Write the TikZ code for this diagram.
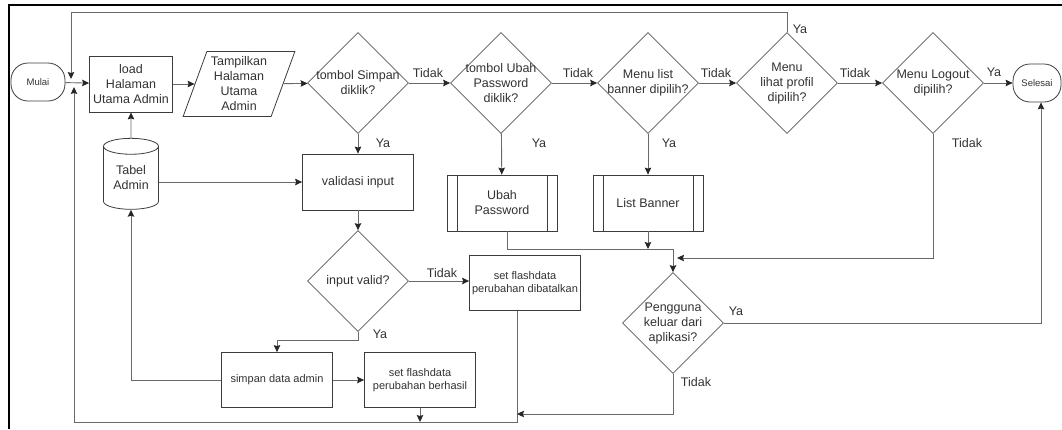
\documentclass[tikz,border=0pt]{standalone}
\usepackage{fontspec}
\setmainfont{Liberation Sans}
\usetikzlibrary{arrows.meta,shapes.geometric}
\definecolor{linec}{RGB}{105,105,105}
\definecolor{edgec}{RGB}{60,60,60}
\definecolor{textc}{RGB}{50,50,50}
\tikzset{
  term/.style={rectangle,rounded corners=17pt,draw=edgec,line width=0.8pt,minimum width=54pt,minimum height=38pt,inner sep=0pt,font=\fontsize{9.5}{11}\selectfont,text=textc},
  proc/.style={rectangle,draw=edgec,line width=0.8pt,minimum width=111pt,minimum height=56pt,inner sep=1pt,align=center,font=\fontsize{12.5}{15}\selectfont,text=textc},
  small/.style={font=\fontsize{11}{13.5}\selectfont},
  pproc/.style={proc,minimum width=110pt,path picture={
      \draw[edgec,line width=0.8pt] ([xshift=10pt]path picture bounding box.north west) -- ([xshift=10pt]path picture bounding box.south west)
        ([xshift=-10pt]path picture bounding box.north east) -- ([xshift=-10pt]path picture bounding box.south east);}},
  io/.style={trapezium,trapezium left angle=69,trapezium right angle=111,trapezium stretches=true,draw=edgec,line width=0.8pt,minimum width=112pt,minimum height=65pt,inner sep=0pt,align=center,font=\fontsize{12.5}{15}\selectfont,text=textc},
  dec/.style={diamond,draw=edgec!85,line width=0.7pt,minimum width=101pt,minimum height=101pt,inner sep=-6pt,align=center,font=\fontsize{12.5}{15}\selectfont,text=textc},
  db/.style={cylinder,shape border rotate=90,aspect=0.45,draw=edgec,line width=0.8pt,minimum width=55pt,minimum height=71pt,inner sep=0pt,align=center,font=\fontsize{12.5}{15}\selectfont,text=textc},
  flow/.style={-{Stealth[length=7pt,width=6.5pt,inset=1pt,color=black!85]},draw=linec,line width=0.9pt},
  lbl/.style={inner sep=0pt,font=\fontsize{12.5}{15}\selectfont,text=textc},
}
\begin{document}
\begin{tikzpicture}[x=1pt,y=-1pt]
  \useasboundingbox (0,0) rectangle (1062,429);
  % page frame
  \draw[black,line width=2pt] (8,5) -- (1062,5);
  \draw[black,line width=1.6pt] (9,5) -- (9,429);
  % top row: start, load, show, questions, end
  \node[term] (mulai) at (38,82){Mulai};
  \node[proc,minimum width=83pt] (load) at (131,84){load\\Halaman\\Utama Admin};
  \node[io] (tampil) at (239,84){Tampilkan\\Halaman\\Utama\\Admin};
  \node[dec] (simpanq) at (358,83){tombol Simpan\\diklik?};
  \node[dec] (ubahq) at (501,83){tombol Ubah\\Password\\diklik?};
  \node[dec] (bannerq) at (648,83){Menu list\\banner dipilih?};
  \node[dec] (profilq) at (787,83){Menu\\lihat profil\\dipilih?};
  \node[dec] (logoutq) at (933,83){Menu Logout\\dipilih?};
  \node[term,minimum width=48pt] (selesai) at (1037,83){Selesai};
  % lower part
  \node[db] (tabel) at (131,178){Tabel\\Admin};
  \node[proc] (valid) at (358,182){validasi input};
  \node[pproc] (ubah) at (502,203){Ubah\\Password};
  \node[pproc] (banner) at (648,203){List Banner};
  \node[dec] (inputq) at (358,281){input valid?};
  \node[proc,small,minimum height=55pt] (batal) at (525,283){set flashdata\\perubahan dibatalkan};
  \node[dec] (keluarq) at (673,323){Pengguna\\keluar dari\\aplikasi?};
  \node[proc,small,minimum height=55pt] (simpan) at (277,380){simpan data admin};
  \node[proc,small,minimum height=55pt] (berhasil) at (420,380){set flashdata\\perubahan berhasil};
  % junction points of the loops
  \coordinate (jtop) at (71,79);
  \coordinate (jbot) at (74,87);
  \coordinate (jmid) at (673,249);
  \coordinate (jright) at (677,258);
  \coordinate (jlow) at (517,422);
  % main line
  \draw[flow](mulai)--(load); \draw[flow](load.east)--(load.east -| tampil.west);
  \draw[flow](tampil)--(simpanq); \draw[flow](simpanq)--(ubahq);
  \draw[flow](ubahq)--(bannerq); \draw[flow](bannerq)--(profilq);
  \draw[flow](profilq)--(logoutq); \draw[flow](logoutq)--(selesai);
  \draw[flow](profilq.north)--++(0,-20)-|(jtop);
  % simpan branch
  \draw[flow](simpanq)--(valid); \draw[flow](tabel)--(load);
  \draw[flow](tabel.east |- valid.west)--(valid.west);
  \draw[flow](valid)--(inputq);
  \draw[flow](inputq.east)--(inputq.east -| batal.west);
  \draw[flow](inputq.south)--++(0,9)-|(simpan.north);
  \draw[flow](simpan.west)-|(tabel.south);
  \draw[flow](simpan)--(berhasil);
  \draw[flow](berhasil.south)--(berhasil.south |- jlow);
  \draw[flow]([xshift=-8pt]batal.south)--(jlow)-|(jbot);
  % menu branches back to the exit question
  \draw[flow](ubahq)--(ubah); \draw[flow](bannerq)--(banner);
  \draw[flow]([xshift=5pt]ubah.south)|-(jmid)--(keluarq.north);
  \draw[flow](banner.south)--(banner.south |- jmid);
  \draw[flow](logoutq.south)|-(jright);
  \draw[flow](keluarq.east)-|([xshift=4pt]selesai.south);
  \draw[flow](keluarq.south)|-([yshift=8pt]jlow);
  % branch labels
  \node[lbl] (t1) at (428,73){Tidak}; \node[lbl] (t2) at (578,73){Tidak};
  \node[lbl] (t3) at (716,73){Tidak}; \node[lbl] (t4) at (855,73){Tidak};
  \node[lbl] (y5) at (994,72){Ya}; \node[lbl] (y4) at (800,29){Ya};
  \node[lbl] (y1) at (383,143){Ya}; \node[lbl] (y2) at (539,143){Ya};
  \node[lbl] (y3) at (669,143){Ya}; \node[lbl] (t5) at (967,143){Tidak};
  \node[lbl] (t6) at (442,273){Tidak}; \node[lbl] (y6) at (380,334){Ya};
  \node[lbl] (y7) at (736,311){Ya}; \node[lbl] (t7) at (696,382){Tidak};
\end{tikzpicture}
\end{document}
